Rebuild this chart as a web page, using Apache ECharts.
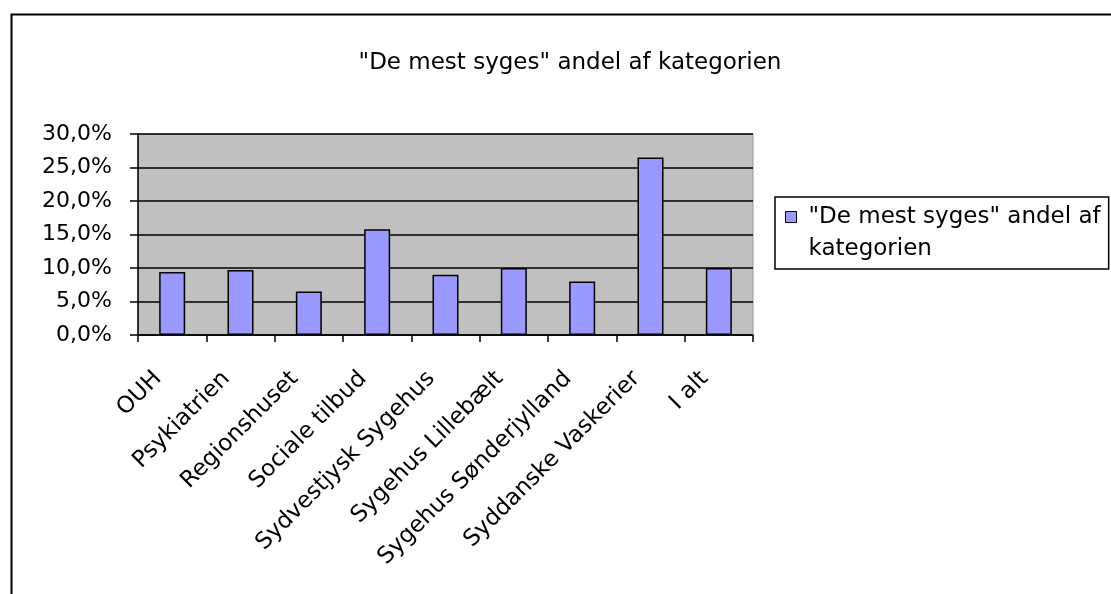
<!DOCTYPE html>
<html>
<head>
<meta charset="utf-8">
<script src="https://cdn.jsdelivr.net/npm/echarts@6/dist/echarts.min.js"></script>
<style>
html,body{margin:0;padding:0;background:#fff;}
#chart{width:1111px;height:594px;}
</style>
</head>
<body>
<div id="chart"></div>
<script>
const titleText = '"De mest syges" andel af kategorien';
const seriesName = '"De mest syges" andel af kategorien';
const categories = ['OUH','Psykiatrien','Regionshuset','Sociale tilbud','Sydvestjysk Sygehus','Sygehus Lillebælt','Sygehus Sønderjylland','Syddanske Vaskerier','I alt'];
const values = [9.4, 9.7, 6.5, 15.8, 9.0, 10.0, 8.0, 26.5, 10.0];
const yMin = 0, yMax = 30, yStep = 5;

const FONT = 'DejaVu Sans';
const chart = echarts.init(document.getElementById('chart'), null, {renderer:'canvas'});
chart.setOption({
  backgroundColor:'#fff',
  animation:false,
  graphic:[{
    type:'rect', left:9, top:12, shape:{x:0,y:0,width:1200,height:700},
    style:{fill:'none', stroke:'#000', lineWidth:2}, silent:true
  }],
  title:{
    text:titleText, left:565, top:58, textAlign:'center', textVerticalAlign:'middle',
    textStyle:{fontFamily:FONT, fontSize:23, fontWeight:'normal', color:'#000'}
  },
  legend:{
    left:775, top:197, orient:'vertical',
    padding:[4,8,4,10],
    borderColor:'#000', borderWidth:1.5,
    itemWidth:11, itemHeight:43,
    icon:'path://M0,0L10,0L10,10L0,10Z M0,39',
    itemStyle:{borderColor:'#000', borderWidth:1},
    formatter:function(){return '"De mest syges" andel af\nkategorien';},
    textStyle:{fontFamily:FONT, fontSize:23, color:'#000', lineHeight:32, padding:[0,0,0,7]}
  },
  grid:{
    left:138, right:358, top:134, bottom:259,
    show:true, backgroundColor:'#C0C0C0', borderColor:'#9a9a9a', borderWidth:1
  },
  xAxis:{
    type:'category', data:categories,
    axisLine:{lineStyle:{color:'#000', width:1.5}},
    axisTick:{show:true, length:7, lineStyle:{color:'#000', width:1.5}},
    axisLabel:{interval:0, rotate:45, margin:26, padding:[0,20,0,0], fontFamily:FONT, fontSize:23, color:'#000'}
  },
  yAxis:{
    type:'value', min:yMin, max:yMax, interval:yStep,
    axisLine:{show:true, lineStyle:{color:'#000', width:1.5}},
    axisTick:{show:true, length:8, lineStyle:{color:'#000', width:1.5}},
    splitLine:{show:true, lineStyle:{color:'#000', width:1.5}},
    axisLabel:{margin:26, fontFamily:FONT, fontSize:22, color:'#000',
      formatter:function(v){return v.toFixed(1).replace('.',',')+'%';}}
  },
  series:[{
    name:seriesName, type:'bar', data:values, barWidth:26,
    itemStyle:{color:'#9999FF', borderColor:'#000', borderWidth:1.5}
  }]
});
</script>
</body>
</html>
